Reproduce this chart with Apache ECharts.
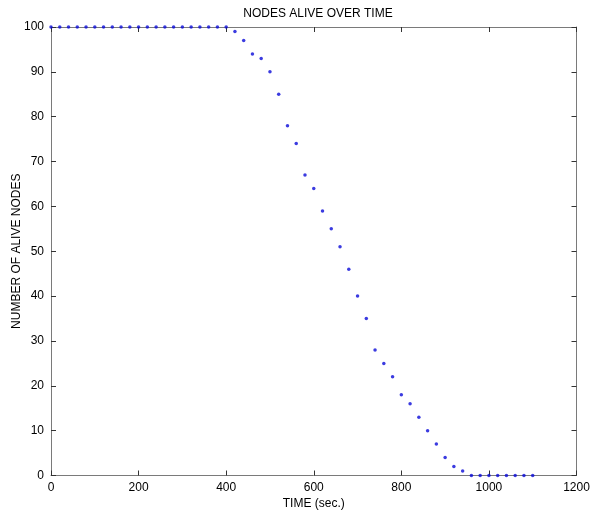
<!DOCTYPE html>
<html>
<head>
<meta charset="utf-8">
<script src="https://cdn.jsdelivr.net/npm/echarts@6/dist/echarts.min.js"></script>
<style>html,body{margin:0;padding:0;background:#fff;}#c{width:591px;height:515px;}</style>
</head>
<body>
<div id="c"></div>
<script>
var times = [0,20,40,60,80,100,120,140,160,180,200,220,240,260,280,300,320,340,360,380,400,420,440,460,480,500,520,540,560,580,600,620,640,660,680,700,720,740,760,780,800,820,840,860,880,900,920,940,960,980,1000,1020,1040,1060,1080,1100];
var alive = [100,100,100,100,100,100,100,100,100,100,100,100,100,100,100,100,100,100,100,100,100,99,97,94,93,90,85,78,74,67,64,59,55,51,46,40,35,28,25,22,18,16,13,10,7,4,2,1,0,0,0,0,0,0,0,0];
var titleText = 'NODES ALIVE OVER TIME';
var xName = 'TIME (sec.)';
var yName = 'NUMBER OF ALIVE NODES';

var pts = times.map(function(t,i){return [t, alive[i]];});
var font = 'Liberation Sans, Arial, sans-serif';
var axisColor = '#7a7a7a';
function plain(v){ return String(v); }
function baseX(show, pos){
  return {type:'value', min:0, max:1200, interval:200, position:pos,
    axisLine:{show:true, onZero:false, lineStyle:{color:axisColor, width:1}},
    axisTick:{show:true, inside:true, length:5, lineStyle:{color:'#333'}},
    splitLine:{show:false},
    axisLabel:{show:show, color:'#000', fontSize:12, fontFamily:font, margin:6, formatter:plain}};
}
function baseY(show, pos){
  return {type:'value', min:0, max:100, interval:10, position:pos,
    axisLine:{show:true, onZero:false, lineStyle:{color:axisColor, width:1}},
    axisTick:{show:true, inside:true, length:5, lineStyle:{color:'#333'}},
    splitLine:{show:false},
    axisLabel:{show:show, color:'#000', fontSize:12, fontFamily:font, margin:7, formatter:plain}};
}
var xb = baseX(true,'bottom');
xb.name = xName; xb.nameLocation='middle'; xb.nameGap=22; xb.nameMoveOverlap=false;
xb.nameTextStyle = {color:'#000', fontSize:12, fontFamily:font};
var yl = baseY(true,'left');
yl.name = yName; yl.nameLocation='middle'; yl.nameGap=28; yl.nameMoveOverlap=false;
yl.nameTextStyle = {color:'#000', fontSize:12, fontFamily:font};

var chart = echarts.init(document.getElementById('c'), null, {renderer:'canvas'});
chart.setOption({
  animation:false,
  backgroundColor:'#fff',
  title:{text:titleText, left:313, top:3, textAlign:'center',
    textStyle:{color:'#000', fontSize:12, fontWeight:'normal', fontFamily:font}},
  grid:{left:51, right:14.5, top:27, bottom:39.5, containLabel:false, outerBoundsMode:'none'},
  xAxis:[xb, baseX(false,'top')],
  yAxis:[yl, baseY(false,'right')],
  series:[{type:'scatter', data:pts, symbol:'circle', symbolSize:3.5,
    itemStyle:{color:'#0a0ad8'}}]
});
</script>
</body>
</html>
